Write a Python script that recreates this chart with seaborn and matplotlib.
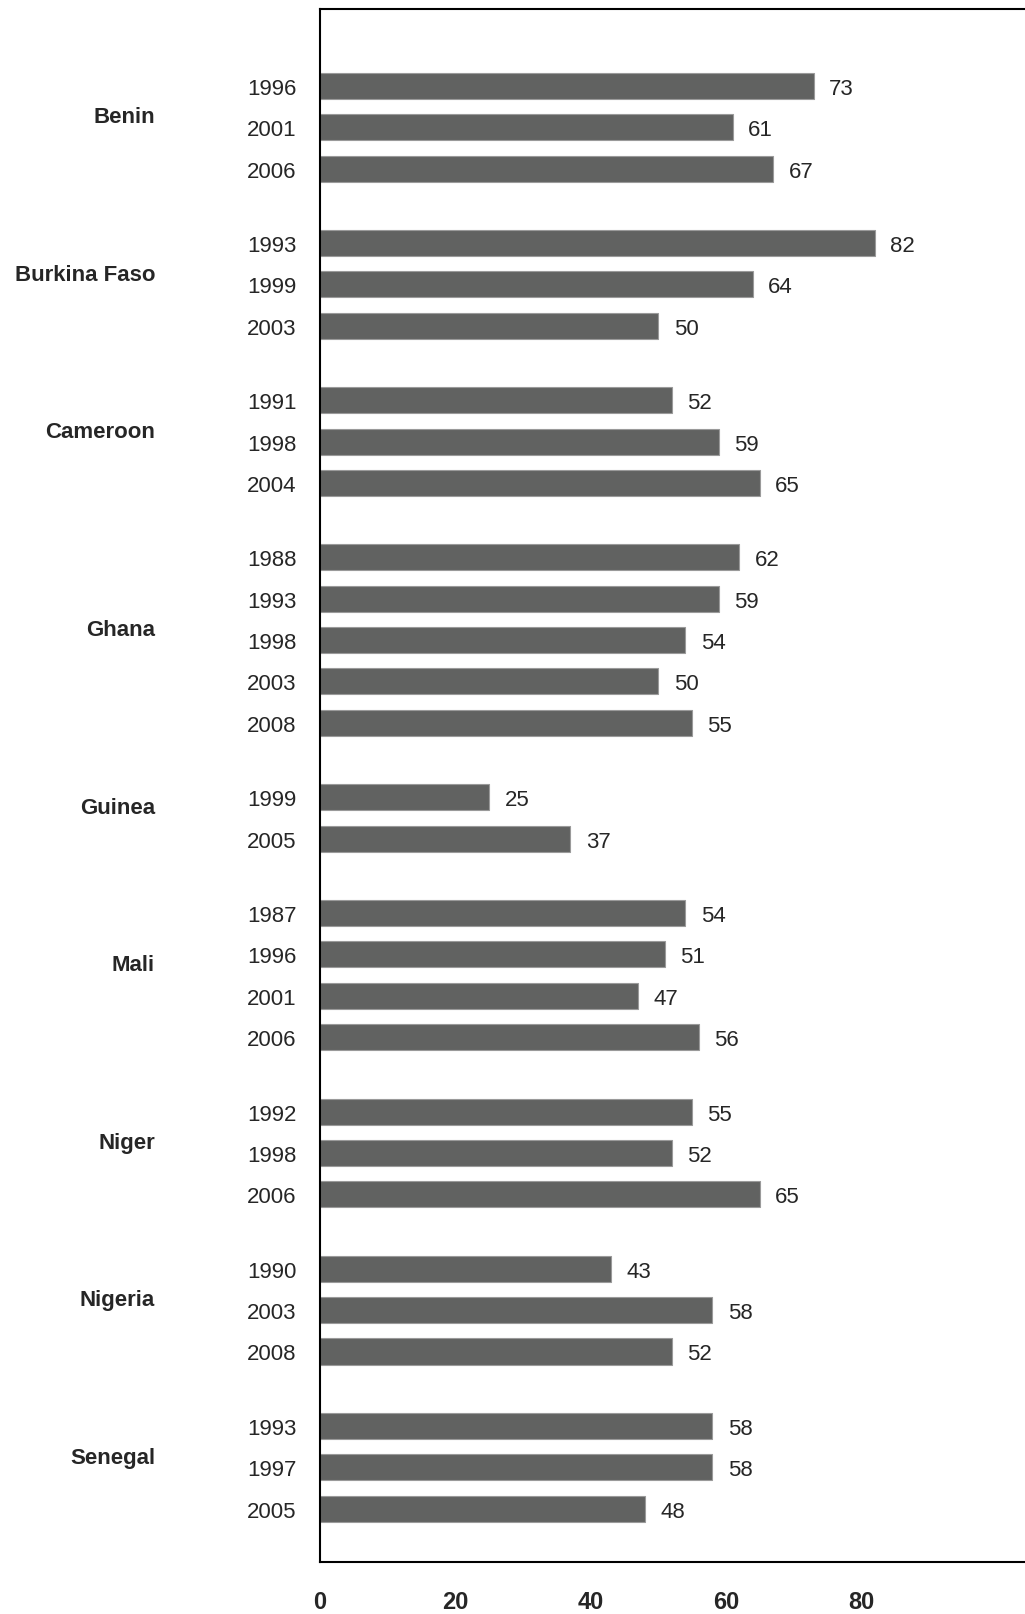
import matplotlib
matplotlib.use("Agg")
import matplotlib.pyplot as plt
import seaborn as sns
import pandas as pd
import numpy as np

countries = ["Benin", "Burkina Faso", "Cameroon", "Ghana", "Guinea",
             "Mali", "Niger", "Nigeria", "Senegal"]
years = [
    ["1996", "2001", "2006"],
    ["1993", "1999", "2003"],
    ["1991", "1998", "2004"],
    ["1988", "1993", "1998", "2003", "2008"],
    ["1999", "2005"],
    ["1987", "1996", "2001", "2006"],
    ["1992", "1998", "2006"],
    ["1990", "2003", "2008"],
    ["1993", "1997", "2005"],
]
values = [
    [73, 61, 67],
    [82, 64, 50],
    [52, 59, 65],
    [62, 59, 54, 50, 55],
    [25, 37],
    [54, 51, 47, 56],
    [55, 52, 65],
    [43, 58, 52],
    [58, 58, 48],
]
x_ticks = [0, 20, 40, 60, 80]

sns.set_theme(style="white")
plt.rcParams["font.family"] = ["Liberation Sans", "DejaVu Sans"]

# layout positions: one unit per bar, extra gap between countries
group_gap = 1.8
pos, yr, val, grp_centers = [], [], [], []
p = 0.0
for gi, (ys, vs) in enumerate(zip(years, values)):
    start = p
    for y, v in zip(ys, vs):
        pos.append(p)
        yr.append(y)
        val.append(v)
        p += 1
    grp_centers.append((start + p - 1) / 2)
    p += group_gap - 1
df = pd.DataFrame({"pos": pos, "year": yr, "value": val})

fig = plt.figure(figsize=(10.25, 16.15), dpi=100)
ax = fig.add_axes([320 / 1025, 1 - 1563 / 1615, 1 - 320 / 1025, (1563 - 9.5) / 1615])

sns.barplot(data=df, x="value", y="pos", orient="h", native_scale=True,
            color="#616261", saturation=1, width=0.63, ax=ax,
            edgecolor="#9a9a9a", linewidth=0.8, errorbar=None)

ax.set_xlim(0, 104.2)
ax.set_ylim(pos[-1] + 1.29, -1.87)

ax.set_yticks(pos)
ax.set_yticklabels(yr, fontsize=16)
ax.tick_params(axis="y", length=0, pad=17)
ax.set_xticks(x_ticks)
ax.set_xticklabels([str(t) for t in x_ticks], fontsize=17, fontweight="bold")
ax.tick_params(axis="x", length=0, pad=20)
ax.set_xlabel("")
ax.set_ylabel("")

for lab in ax.get_yticklabels():
    lab.set_va("center_baseline")

texts = ax.bar_label(ax.containers[0], labels=[str(v) for v in val],
                     padding=11, fontsize=16)
for t in texts:
    t.set_va("center_baseline")

for c, gc in zip(countries, grp_centers):
    ax.annotate(c, xy=(-0.234, gc), xycoords=ax.get_yaxis_transform(),
                xytext=(0, 7.4), textcoords="offset points",
                ha="right", va="center", fontsize=16, fontweight="bold")

for s in ["left", "top", "bottom"]:
    ax.spines[s].set_visible(True)
    ax.spines[s].set_color("black")
    ax.spines[s].set_linewidth(1.5)
ax.spines["right"].set_visible(False)
ax.grid(False)

fig.savefig("out.png", dpi=100)
